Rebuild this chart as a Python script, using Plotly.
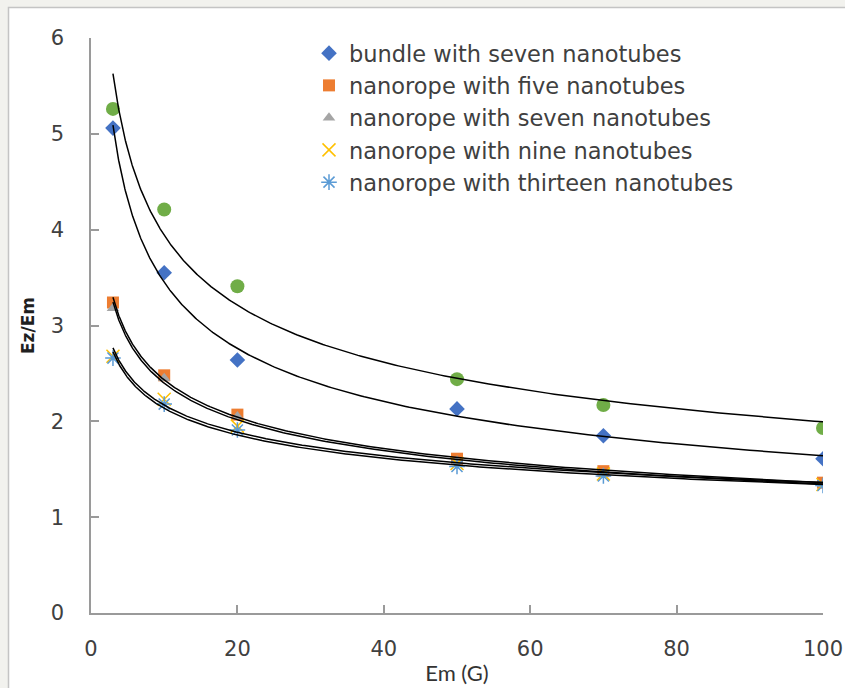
import numpy as np
import plotly.graph_objects as go

em = [3, 10, 20, 50, 70, 100]
bundle7 = [5.06, 3.55, 2.64, 2.13, 1.85, 1.61]
rope5 = [3.24, 2.48, 2.07, 1.61, 1.48, 1.36]
rope7 = [3.18, 2.45, 2.05, 1.59, 1.46, 1.34]
rope9 = [2.68, 2.23, 1.95, 1.56, 1.45, 1.34]
rope13 = [2.66, 2.18, 1.91, 1.53, 1.43, 1.33]
extra = [5.26, 4.21, 3.41, 2.44, 2.17, 1.93]

series = [
    ("bundle with seven nanotubes", bundle7, "diamond", "#4472c4", 12, True),
    ("nanorope with five nanotubes", rope5, "square", "#ed7d31", 12, True),
    ("nanorope with seven nanotubes", rope7, "triangle-up", "#a5a5a5", 11, True),
    ("nanorope with nine nanotubes", rope9, "x-thin-open", "#ffc000", 13, True),
    ("nanorope with thirteen nanotubes", rope13, "asterisk-open", "#5b9bd5", 13, True),
    ("series 6", extra, "circle", "#70ad47", 14, False),
]

fig = go.Figure()
for i, (name, ys, sym, col, sz, show) in enumerate(series):
    fig.add_trace(go.Scatter(
        x=em, y=ys, mode="markers", name=name, showlegend=show,
        legendgroup="g%d" % i,
        marker=dict(symbol=sym, color=col, size=sz,
                    line=dict(color=col, width=1.5 if "open" in sym else 0)),
    ))

# power-law trendlines (least squares on log-log), as Excel does
xx = np.geomspace(min(em), max(em), 300)
for name, ys, sym, col, sz, show in series:
    b, lna = np.polyfit(np.log(em), np.log(ys), 1)
    fig.add_trace(go.Scatter(
        x=xx, y=np.exp(lna) * xx ** b, mode="lines", showlegend=False,
        line=dict(color="black", width=1.5), hoverinfo="skip",
    ))

W, H = 845, 688
L, T = 91, 38
pw, ph = 732, 575
R, B = W - L - pw, H - T - ph


def px2x(p):
    return (p - L) / pw


def py2y(p):
    return (H - B - p) / ph


# white chart frame on the light-grey page background
fig.add_shape(type="rect", xref="paper", yref="paper",
              x0=px2x(8.5), x1=px2x(900), y0=py2y(900), y1=py2y(7.5),
              fillcolor="white", line=dict(color="#c4c4c4", width=1.5),
              layer="below")

axis_common = dict(showgrid=False, zeroline=False, showline=True,
                   linecolor="#9a9a9a", linewidth=1.5, ticks="inside",
                   ticklen=8, tickcolor="#9a9a9a", tickwidth=1.5,
                   tickfont=dict(family="DejaVu Sans", size=21, color="#404040"))

fig.update_layout(
    width=W, height=H,
    margin=dict(l=L, r=R, t=T, b=B, autoexpand=False),
    paper_bgcolor="#f2f2ee", plot_bgcolor="white",
    xaxis=dict(range=[0, 100], dtick=20, ticklabelstandoff=16,
               title=dict(text="Em (G)", standoff=6,
                          font=dict(family="Lato", size=22, color="#333333")),
               **axis_common),
    yaxis=dict(range=[0, 6], dtick=1, ticklabelstandoff=21,
               title=dict(text="<b>Ez/Em</b>", standoff=12,
                          font=dict(family="DejaVu Sans", size=17, color="#202020")),
               **axis_common),
    legend=dict(x=px2x(309), y=py2y(32), xanchor="left", yanchor="top",
                bgcolor="rgba(0,0,0,0)", tracegroupgap=0, traceorder="grouped",
                font=dict(family="DejaVu Sans", size=22.5, color="#404040")),
    showlegend=True,
)

fig.write_html(
    "out.html",
    config={"displayModeBar": False},
    post_script="document.body.style.margin='0';"
                "document.documentElement.style.overflow='hidden';",
)
